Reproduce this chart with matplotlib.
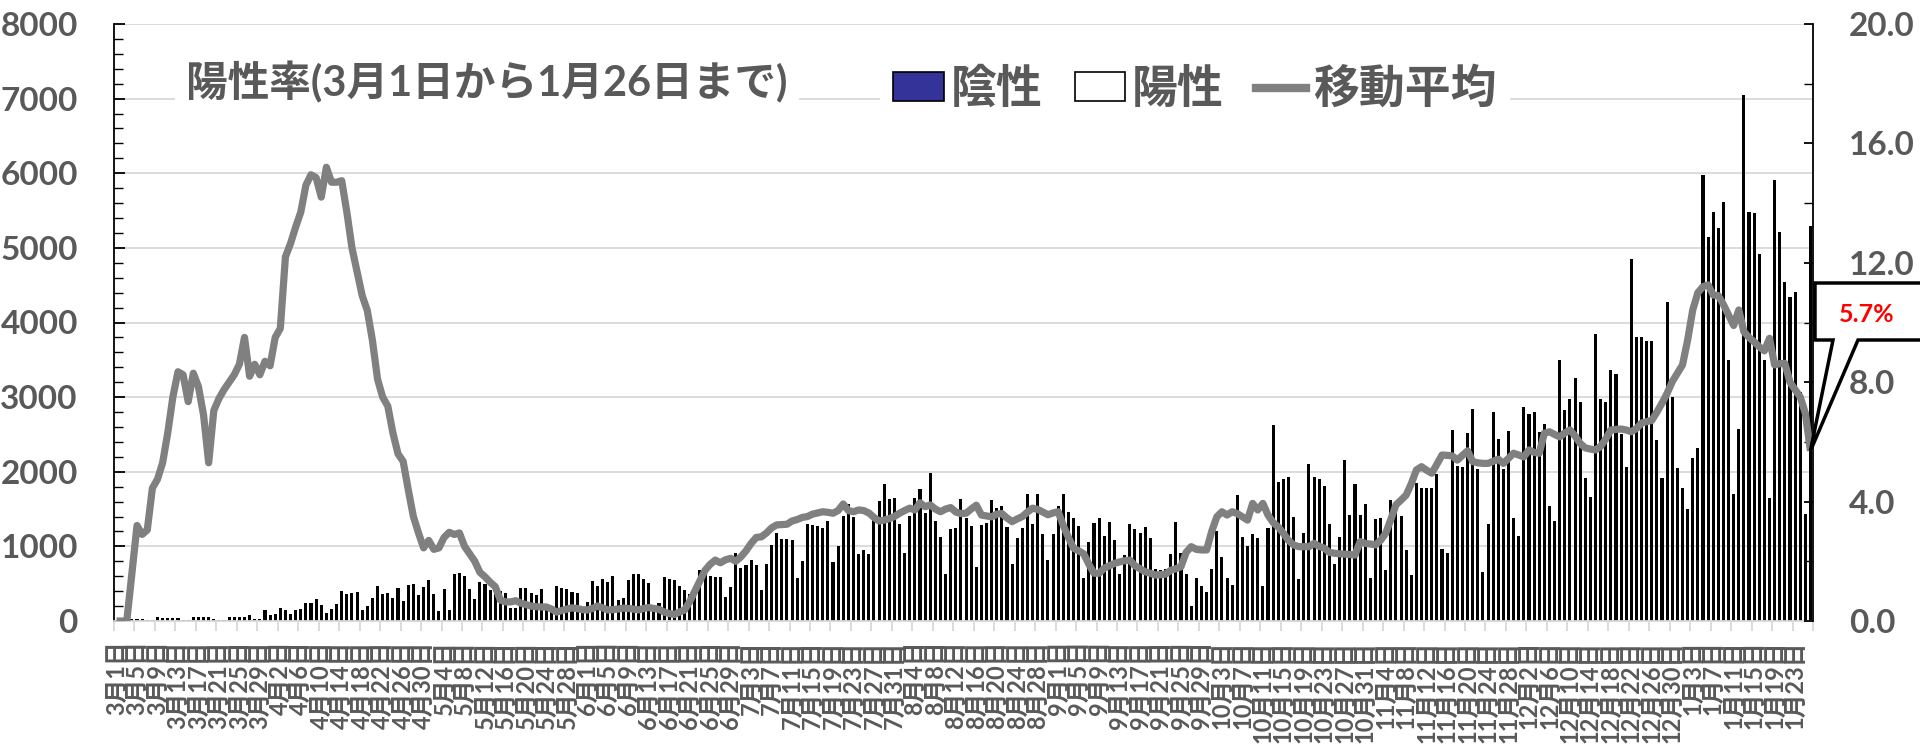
import matplotlib.pyplot as plt
from matplotlib.patches import Patch, Polygon
from matplotlib.lines import Line2D
from matplotlib.ticker import MultipleLocator, FormatStrFormatter
import numpy as np
import pandas as pd

plt.rcParams['font.family'] = ['Lato', 'Noto Sans CJK JP', 'DejaVu Sans']

# daily tests, 2020-03-01 .. 2021-01-26
tests = [
    15, 20, 25, 22, 22, 22, 18, 9, 54, 36, 36, 40, 36, 13, 13, 54, 54, 54, 54, 31,
    18, 18, 58, 58, 58, 58, 76, 31, 31, 143, 76, 98, 170, 143, 98, 143, 157, 246, 246, 290,
    215, 112, 165, 232, 402, 367, 376, 384, 143, 197, 304, 469, 358, 371, 304, 438, 268, 478, 492, 344,
    460, 550, 358, 134, 425, 143, 626, 644, 603, 425, 290, 523, 500, 420, 360, 400, 380, 179, 179, 447,
    438, 380, 349, 425, 224, 201, 470, 438, 434, 394, 371, 143, 259, 536, 470, 559, 523, 599, 277, 304,
    554, 635, 626, 559, 505, 201, 246, 595, 568, 545, 469, 411, 358, 425, 684, 648, 603, 590, 590, 322,
    456, 916, 715, 751, 818, 746, 416, 769, 1015, 1185, 1104, 1095, 1086, 572, 805, 1296, 1287, 1274, 1252, 1341,
    791, 1006, 1408, 1573, 1395, 894, 952, 894, 1430, 1609, 1833, 1632, 1654, 1296, 916, 1408, 1645, 1766, 1453, 1989,
    1341, 1126, 626, 1229, 1252, 1632, 1386, 1274, 724, 1287, 1319, 1618, 1520, 1542, 1261, 760, 1118, 1243, 1699, 1305,
    1708, 1171, 818, 1162, 1542, 1699, 1462, 1386, 1274, 581, 1059, 1310, 1386, 1140, 1328, 1082, 635, 881, 1305, 1238,
    1185, 1265, 1118, 693, 679, 693, 894, 1332, 916, 626, 201, 581, 469, 393, 693, 1207, 863, 581, 478, 1685,
    1131, 1006, 1162, 1118, 469, 1243, 2624, 1864, 1909, 1935, 1395, 568, 1185, 2110, 1931, 1909, 1810, 1296, 760, 1126,
    2159, 1421, 1833, 1417, 1573, 581, 1363, 1386, 684, 1618, 1565, 1408, 948, 612, 1855, 1779, 1779, 1779, 1976, 961,
    916, 2561, 2079, 2065, 2517, 2847, 2034, 662, 1296, 2807, 2445, 2034, 2548, 1386, 1140, 2874, 2771, 2794, 2526, 2637,
    1542, 1341, 3496, 2830, 2981, 3250, 2928, 1922, 1667, 3844, 2973, 2928, 3366, 3308, 2503, 2065, 4851, 3800, 3800, 3746,
    3746, 2423, 1913, 4269, 2995, 2056, 1779, 1497, 2190, 2324, 5976, 5146, 5485, 5270, 5619, 3496, 1708, 2570, 7048, 5485,
    5463, 4922, 3500, 1650, 5909, 5217, 4543, 4346, 4413, 3062, 1430, 5293,
]

# 7-day moving average of positive rate (%)
rate = [
    0, 0, 0, 1.6, 3.2, 2.9, 3.05, 4.45, 4.75, 5.3, 6.3, 7.5, 8.35, 8.25, 7.35, 8.3, 7.85, 6.9, 5.3, 7.05,
    7.45, 7.75, 8.0, 8.25, 8.6, 9.5, 8.2, 8.6, 8.25, 8.7, 8.55, 9.5, 9.8, 12.2, 12.65, 13.2, 13.7, 14.6, 14.95, 14.85,
    14.2, 15.2, 14.7, 14.7, 14.75, 13.7, 12.5, 11.7, 10.9, 10.4, 9.4, 8.1, 7.5, 7.2, 6.3, 5.6, 5.35, 4.4, 3.5, 2.95,
    2.45, 2.7, 2.4, 2.45, 2.8, 2.97, 2.9, 2.95, 2.5, 2.25, 2.0, 1.63, 1.48, 1.3, 1.15, 0.7, 0.64, 0.64, 0.68, 0.6,
    0.55, 0.5, 0.48, 0.47, 0.47, 0.4, 0.3, 0.35, 0.4, 0.44, 0.42, 0.38, 0.37, 0.42, 0.5, 0.44, 0.37, 0.38, 0.4, 0.43,
    0.42, 0.4, 0.37, 0.42, 0.45, 0.42, 0.39, 0.3, 0.25, 0.22, 0.3, 0.37, 0.65, 1.0, 1.35, 1.7, 1.9, 2.04, 1.95, 2.05,
    2.1, 2.0, 2.15, 2.35, 2.6, 2.8, 2.82, 2.95, 3.12, 3.22, 3.23, 3.24, 3.35, 3.4, 3.47, 3.5, 3.58, 3.62, 3.66, 3.64,
    3.61, 3.7, 3.92, 3.7, 3.66, 3.72, 3.7, 3.62, 3.47, 3.35, 3.38, 3.43, 3.5, 3.61, 3.7, 3.78, 3.72, 3.96, 3.83, 3.89,
    3.75, 3.66, 3.75, 3.8, 3.65, 3.6, 3.61, 3.75, 3.88, 3.55, 3.52, 3.49, 3.58, 3.6, 3.45, 3.33, 3.42, 3.5, 3.65, 3.78,
    3.74, 3.65, 3.56, 3.62, 3.66, 3.2, 2.8, 2.44, 2.35, 2.25, 1.9, 1.6, 1.6, 1.77, 1.85, 1.93, 1.98, 2.02, 2.04, 1.85,
    1.75, 1.65, 1.6, 1.54, 1.55, 1.57, 1.7, 1.75, 1.82, 2.3, 2.49, 2.4, 2.38, 2.38, 3.0, 3.49, 3.66, 3.55, 3.66, 3.6,
    3.49, 3.38, 3.94, 3.72, 3.94, 3.55, 3.3, 3.15, 2.94, 2.7, 2.55, 2.49, 2.49, 2.49, 2.6, 2.5, 2.44, 2.3, 2.27, 2.25,
    2.24, 2.23, 2.21, 2.66, 2.6, 2.58, 2.55, 2.7, 2.94, 3.4, 3.89, 4.05, 4.22, 4.6, 5.06, 5.17, 5.05, 4.95, 5.25, 5.56,
    5.55, 5.53, 5.39, 5.55, 5.7, 5.34, 5.3, 5.28, 5.28, 5.35, 5.42, 5.28, 5.45, 5.62, 5.56, 5.5, 5.73, 5.65, 5.62, 6.29,
    6.34, 6.25, 6.17, 6.3, 6.4, 6.2, 5.95, 5.8, 5.76, 5.73, 5.85, 6.1, 6.4, 6.42, 6.43, 6.4, 6.34, 6.45, 6.63, 6.68,
    6.72, 7.0, 7.3, 7.63, 8.02, 8.3, 8.58, 9.41, 10.42, 11.0, 11.2, 11.26, 10.92, 10.9, 10.6, 10.25, 9.9, 10.42, 9.69, 9.5,
    9.35, 9.19, 9.05, 9.47, 8.58, 8.62, 8.63, 8.0, 7.75, 7.51, 6.96, 5.7,
]

dates = pd.date_range('2020-03-01', periods=len(tests))
day_labels = [f"{d.month}月{d.day}日" for d in dates]

title = "陽性率(3月1日から1月26日まで)"
legend_labels = ["陰性", "陽性", "移動平均"]

gray_text = '#595959'
grid_gray = '#d9d9d9'

x = np.arange(len(tests))

fig = plt.figure(figsize=(19.2, 7.45), dpi=100)
ax = fig.add_axes([114 / 1920, 124 / 745, (1813 - 114) / 1920, (621 - 24) / 745])

ax.bar(x, tests, width=0.6, color='black', linewidth=0, zorder=2)
ax.set_xlim(-0.5, len(tests) - 0.5)
ax.set_ylim(0, 8000)
ax.set_yticks(range(0, 8001, 1000))
ax.yaxis.set_minor_locator(MultipleLocator(200))
ax.yaxis.grid(True, color=grid_gray, lw=1.3)
ax.set_axisbelow(True)

ax.set_xticks(x[::4])
ax.set_xticklabels(day_labels[::4], rotation=90, ha='center', va='top')
ax.set_xticks(np.arange(-0.5, len(tests), 4), minor=True)
ax.tick_params(axis='x', which='major', length=0, pad=14, labelsize=17, labelcolor=gray_text)
ax.tick_params(axis='x', which='minor', length=7, width=1.3, color=grid_gray)
ax.tick_params(axis='y', which='major', direction='in', length=8, width=1.3, color='black',
               pad=26, labelsize=24, labelcolor=gray_text)
ax.tick_params(axis='y', which='minor', direction='in', length=6.5, width=1.0, color='black')
for lab in ax.get_xticklabels() + ax.get_yticklabels():
    lab.set_fontweight('bold')

ax.spines['top'].set_visible(False)
ax.spines['right'].set_visible(False)
ax.spines['left'].set_color('black')
ax.spines['left'].set_linewidth(1.3)
ax.spines['bottom'].set_color(grid_gray)
ax.spines['bottom'].set_linewidth(1.3)

ax2 = ax.twinx()
ax2.plot(x, rate, color='#808080', lw=5.2, solid_joinstyle='round', solid_capstyle='butt', zorder=3)
ax2.set_ylim(0, 20)
ax2.set_yticks(range(0, 21, 4))
ax2.yaxis.set_major_formatter(FormatStrFormatter('%.1f'))
ax2.yaxis.set_minor_locator(MultipleLocator(2))
ax2.tick_params(axis='y', which='major', direction='in', length=6.5, width=1.3, color='black',
                pad=26, labelsize=24, labelcolor=gray_text)
ax2.tick_params(axis='y', which='minor', direction='in', length=6.5, width=1.0, color='black')
for lab in ax2.get_yticklabels():
    lab.set_fontweight('bold')
for s in ['top', 'left', 'bottom']:
    ax2.spines[s].set_visible(False)
ax2.spines['right'].set_color('black')
ax2.spines['right'].set_linewidth(1.3)

# title box
fig.text(186 / 1920, 1 - 82 / 745, title, fontsize=30, fontweight='bold', color=gray_text,
         ha='left', va='center', bbox=dict(facecolor='white', edgecolor='none', pad=8))

# legend
handles = [Patch(facecolor='#333399', edgecolor='black', lw=1.2),
           Patch(facecolor='white', edgecolor='black', lw=1.2),
           Line2D([0], [0], color='#808080', lw=6)]
fig.legend(handles, legend_labels, loc='center', bbox_to_anchor=(1195 / 1920, 1 - 89 / 745), ncol=3,
           frameon=True, facecolor='white', edgecolor='none', framealpha=1,
           prop={'size': 33, 'weight': 'bold'}, labelcolor=gray_text,
           handlelength=1.1, handleheight=0.6, handletextpad=0.15, columnspacing=0.7, borderpad=0.3)

# callout for the latest value
fig.canvas.draw()
tip = ax2.transData.transform((x[-1], rate[-1]))
tip = fig.transFigure.inverted().transform(tip)
top_y, bot_y = 1 - 283 / 745, 1 - 340 / 745
verts = [(1815 / 1920, top_y), (1.02, top_y), (1.02, bot_y), (1858 / 1920, bot_y),
         (tip[0], tip[1]), (1833 / 1920, bot_y), (1815 / 1920, bot_y)]
fig.add_artist(Polygon(verts, closed=True, transform=fig.transFigure, facecolor='white',
                       edgecolor='black', lw=2.5, clip_on=False, zorder=10))
fig.text(1867 / 1920, 1 - 314 / 745, f"{rate[-1]:.1f}%", color='red', fontsize=18, fontweight='bold',
         ha='center', va='center', zorder=11)

fig.savefig('out.png', dpi=100)
